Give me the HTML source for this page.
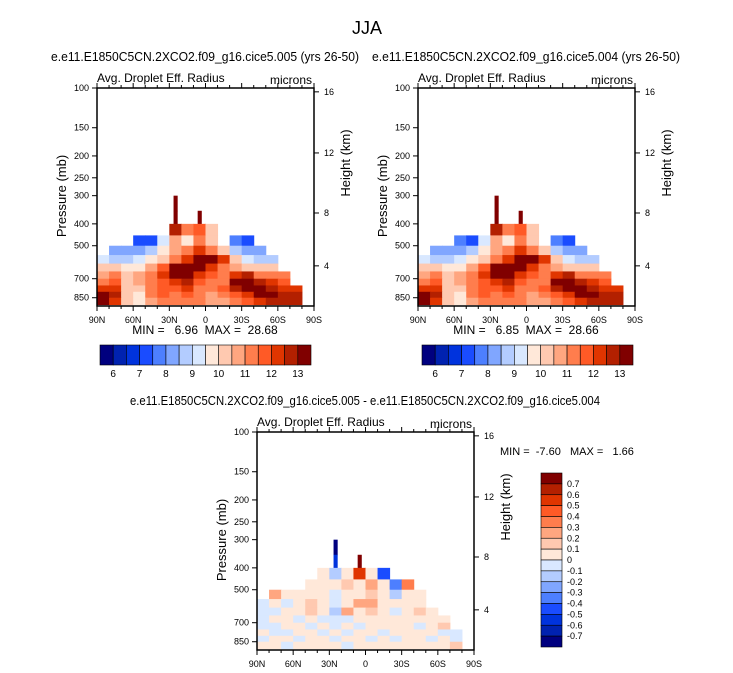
<!DOCTYPE html>
<html><head><meta charset="utf-8"><style>
body{margin:0;background:#fff;}
svg{display:block;font-family:"Liberation Sans",Arial,sans-serif;}
text{white-space:pre;}
</style></head><body>
<svg id="s" width="733" height="673" viewBox="0 0 733 673" xmlns="http://www.w3.org/2000/svg">
<text x="367" y="34" font-size="18" text-anchor="middle">JJA</text>
</svg>
<script>
// ---------- data ----------
const lonLabels = ["90N","60N","30N","0","30S","60S","90S"];
const presTicks = [100,150,200,250,300,400,500,700,850];
const heightTicks = [16,12,8,4];
const heightTickP = [104,194,358,614]; // pressure (mb) at which height ticks fall
// row pressure boundaries (mb), 10-degree lat columns from 90N to 90S
const rowBounds = [300,350,400,450,500,550,600,650,700,750,800,850,912];
const N = null;
const panelA = [
 [N,N,N,N,N,N,14,N,N,N,N,N,N,N,N,N,N,N],
 [N,N,N,N,N,N,14,N,14,N,N,N,N,N,N,N,N,N],
 [N,N,N,N,N,N,12.5,11,11.5,10,N,N,N,N,N,N,N,N],
 [N,N,N,7,7,9,10.5,9.5,11,10,N,7.5,7,N,N,N,N,N],
 [N,8,8,8,8.5,9.5,10.5,11,12,11,10,8.5,8,8,N,N,N,N],
 [9,8.7,8.8,9,9.5,10,11,12,13,13,12,10,9,8.8,8.8,N,N,N],
 [10,10,9.5,9.7,10.5,11.5,13.5,14,14,12,11,10.5,10,10,10,N,N,N],
 [10.5,11,10,10.5,11,12,13.5,13.8,12,11.5,11,12,12.5,11,11,11,N,N],
 [11,11.5,10,10.5,11,11.5,12,12.5,11.5,11,11,13,14,12.5,12,11.5,N,N],
 [12,12,10,10,11,11.5,11.5,12,11,11,11.5,12.5,13.5,13,12.5,12,12,N],
 [13,12.5,10,9.5,11,11.5,11,11.5,11,10.5,11,11.5,12,13,13,12.5,12.5,N],
 [13.5,12,10,9.5,10.5,11,11,11,11,10.5,10.5,11,11.5,12,12.5,12.5,12.5,N]
];
const panelB = [
 [N,N,N,N,N,N,14,N,N,N,N,N,N,N,N,N,N,N],
 [N,N,N,N,N,N,14,N,14,N,N,N,N,N,N,N,N,N],
 [N,N,N,N,N,N,12.5,11,11.5,10,N,N,N,N,N,N,N,N],
 [N,N,N,7.5,7,9,10.5,9.5,11,10,N,7.5,7,N,N,N,N,N],
 [N,8,8,8,8.5,9.5,10.5,11,12,11,10,8.5,8,8,N,N,N,N],
 [9,8.7,8.8,9,9.5,10,11,12,13,13,12,10,9,8.8,8.8,N,N,N],
 [10,10,9.5,9.7,10.5,11.5,13.5,14,14,12,11,10.5,10,10,10,N,N,N],
 [10.5,11,10,10.5,11,12,13.5,13.8,12,11.5,11,12,12.5,11,11,11,N,N],
 [11,11.5,10,10.5,11,11.5,12,12.5,11.5,11,11,13,14,12.5,12,11.5,N,N],
 [12,12,10,10,11,11.5,11.5,12,11,11,11.5,12.5,13.5,13,12.5,12,12,N],
 [13,12.5,10,9.5,11,11.5,11,11.5,11,10.5,11,11.5,12,13,13,12.5,12.5,N],
 [13.5,12,10,9.5,10.5,11,11,11,11,10.5,10.5,11,11.5,12,12.5,12.5,12.5,N]
];
const panelDiff = [
 [N,N,N,N,N,N,-0.8,N,N,N,N,N,N,N,N,N,N,N],
 [N,N,N,N,N,N,-0.6,N,0.8,N,N,N,N,N,N,N,N,N],
 [N,N,N,N,N,0.05,-0.2,0.05,0.5,0.05,-0.5,N,N,N,N,N,N,N],
 [N,N,N,N,0.05,0.05,0.05,0.15,0.05,0.2,0.05,-0.4,0.3,N,N,N,N,N],
 [N,0.2,0.05,0.05,0.05,0.05,-0.05,0.05,0.05,0.15,0.05,-0.2,0.05,0.05,N,N,N,N],
 [-0.05,0.05,-0.05,0.05,0.15,0.05,-0.05,0.05,0.2,0.2,0.05,0.05,0.05,0.05,N,N,N,N],
 [-0.05,-0.05,0.05,0.05,0.15,0.05,-0.15,0.2,0.05,0.1,0.05,-0.05,0.05,0.1,0.05,N,N,N],
 [-0.05,0.05,0.05,-0.05,0.05,-0.05,-0.1,-0.05,0.05,0.05,0.05,0.05,0.05,0.05,0.05,0.05,N,N],
 [-0.05,-0.05,0.05,0.05,-0.05,0.05,-0.05,0.05,-0.05,0.05,0.05,0.05,0.05,-0.05,0.05,0.1,N,N],
 [0.05,-0.05,-0.05,0.05,0.05,-0.05,0.05,-0.05,0.05,0.05,-0.05,0.05,0.05,0.05,0.05,-0.05,-0.05,N],
 [-0.05,0.05,0.05,-0.05,0.05,0.05,-0.05,0.05,0.05,-0.05,0.05,-0.05,0.05,0.05,-0.05,0.05,-0.05,N],
 [0.05,0.05,-0.05,0.05,0.05,0.05,0.05,-0.05,0.05,0.05,0.05,0.05,0.05,0.05,0.05,0.05,0.15,N]
];
const absLevels = [6,6.5,7,7.5,8,8.5,9,9.5,10,10.5,11,11.5,12,12.5,13];
const absLabels = ["6","7","8","9","10","11","12","13"];
const diffLevels = [-0.7,-0.6,-0.5,-0.4,-0.3,-0.2,-0.1,0,0.1,0.2,0.3,0.4,0.5,0.6,0.7];
const diffLabels = ["0.7","0.6","0.5","0.4","0.3","0.2","0.1","0","-0.1","-0.2","-0.3","-0.4","-0.5","-0.6","-0.7"];
const colors = ["#00007f","#0022b0","#0033dd","#1a4cff","#4d7fff","#80a6ff","#b3ccff","#d9e8ff","#ffe8d9","#ffc9b0","#ffa680","#ff7d4d","#ff5a26","#e03500","#b32000","#800000"];

// ---------- drawing ----------
const S = document.getElementById('s');
const NS = "http://www.w3.org/2000/svg";
function mk(tag, at, parent){const e=document.createElementNS(NS,tag);for(const k in at)e.setAttribute(k,at[k]);(parent||S).appendChild(e);return e;}
function colorFor(v, lv){let i=0;while(i<lv.length&&v>=lv[i])i++;return colors[i];}

function panel(x0, y0, grid, lv, tag, minmax, titleTxt, titleLen){
  const W=217,H=218;
  const yP=p=>y0+98*Math.log(p/100);
  const xL=lat=>x0+(90-lat)/180*W;
  const g=mk('g',{});
  
  
  if(titleTxt){const t=mk('text',{x:x0+108,y:y0-27,'font-size':12.5,'text-anchor':'middle',textLength:titleLen,lengthAdjust:'spacingAndGlyphs'},g);t.textContent=titleTxt;
    }
  const st=mk('text',{x:x0,y:y0-6,'font-size':12},g);st.textContent="Avg. Droplet Eff. Radius";
  
  const un=mk('text',{x:x0+W-2,y:y0-4,'font-size':12,'text-anchor':'end'},g);un.textContent="microns";
  
  grid.forEach((row,r)=>{row.forEach((v,c)=>{ if(v===null)return;
    const xa=xL(90-c*10), xb=xL(80-c*10), ya=yP(rowBounds[r]), yb=Math.min(yP(rowBounds[r+1]),y0+H);
    const w=(r<2)?(xb-xa)*0.3:(xb-xa);
    const cell=mk('rect',{x:xa+(r<2?(xb-xa)*0.35:0),y:ya,width:w+0.5,height:yb-ya+0.5,fill:colorFor(v,lv)},g);
    
    
  });});
  mk('rect',{x:x0,y:y0,width:W,height:H,fill:'none',stroke:'#000','stroke-width':1.5},g);
  presTicks.forEach(p=>{const y=yP(p);mk('line',{x1:x0-5,x2:x0,y1:y,y2:y,stroke:'#000'},g);
    const t=mk('text',{x:x0-8,y:y+3,'font-size':9,'text-anchor':'end'},g);t.textContent=p;
    });
  heightTicks.forEach((h,i)=>{const y=yP(heightTickP[i]);mk('line',{x1:x0+W,x2:x0+W+5,y1:y,y2:y,stroke:'#000'},g);
    const t=mk('text',{x:x0+W+10,y:y+3,'font-size':9},g);t.textContent=h;
    });
  for(let lat=90;lat>=-90;lat-=10){const x=xL(lat);const maj=lat%30===0;
    mk('line',{x1:x,x2:x,y1:y0+H,y2:y0+H+(maj?5:3),stroke:'#000'},g);
    mk('line',{x1:x,x2:x,y1:y0,y2:y0-(maj?5:3),stroke:'#000'},g);}
  lonLabels.forEach((l,i)=>{const t=mk('text',{x:x0+i*W/6,y:y0+H+17,'font-size':9,'text-anchor':'middle'},g);t.textContent=l;
    });
  const pl=mk('text',{x:0,y:0,'font-size':13,'text-anchor':'middle',transform:`translate(${x0-31},${y0+108}) rotate(-90)`},g);pl.textContent="Pressure (mb)";
  
  const hl=mk('text',{x:0,y:0,'font-size':13,'text-anchor':'middle',transform:`translate(${x0+W+36},${y0+75}) rotate(-90)`},g);hl.textContent="Height (km)";
  
  if(minmax){const t=mk('text',{x:x0+108,y:y0+H+28,'font-size':12,'text-anchor':'middle'},g);t.textContent=minmax;
    }
}
function hbar(x0,y0){const w=211/16;
  colors.forEach((c,i)=>{const r=mk('rect',{x:x0+i*w,y:y0,width:w,height:20,fill:c,stroke:'#000','stroke-width':0.6});
    });
  absLabels.forEach((l,i)=>{const t=mk('text',{x:x0+w*(1+2*i),y:y0+32,'font-size':10,'text-anchor':'middle'});t.textContent=l;
    });
}
panel(97,88,panelA,absLevels,'left',"MIN =   6.96  MAX =  28.68","e.e11.E1850C5CN.2XCO2.f09_g16.cice5.005 (yrs 26-50)",308);
panel(418,88,panelB,absLevels,'right',"MIN =   6.85  MAX =  28.66","e.e11.E1850C5CN.2XCO2.f09_g16.cice5.004 (yrs 26-50)",308);
hbar(100,345);hbar(422,345);
panel(257,432,panelDiff,diffLevels,'diff',null,"e.e11.E1850C5CN.2XCO2.f09_g16.cice5.005 - e.e11.E1850C5CN.2XCO2.f09_g16.cice5.004",470);
const mm=mk('text',{x:500,y:455,'font-size':11});mm.textContent="MIN =  -7.60   MAX =   1.66";

(function(){const x0=541,y0=473,h=174/16;
  colors.slice().reverse().forEach((c,i)=>{const r=mk('rect',{x:x0,y:y0+i*h,width:21,height:h,fill:c,stroke:'#000','stroke-width':0.6});
    });
  diffLabels.forEach((l,i)=>{const t=mk('text',{x:x0+26,y:y0+(i+1)*h+3,'font-size':9});t.textContent=l;
    });
})();
</script>
</body></html>
